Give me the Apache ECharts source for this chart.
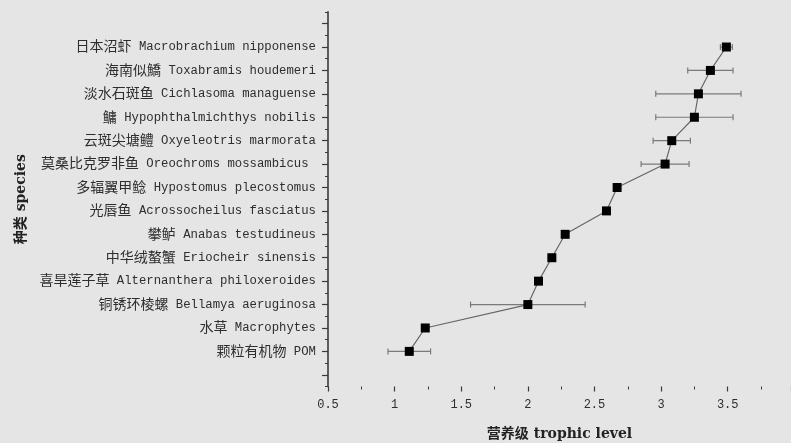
<!DOCTYPE html>
<html>
<head>
<meta charset="utf-8">
<script src="https://cdn.jsdelivr.net/npm/echarts@6/dist/echarts.min.js"></script>
<style>
html,body{margin:0;padding:0;background:#e5e5e5;}
#chart{width:791px;height:443px;}
</style>
</head>
<body>
<div id="chart"></div>
<script>
// Species listed top to bottom as in the figure
const cnNames = ['日本沼虾','海南似鱎','淡水石斑鱼','鳙','云斑尖塘鳢','莫桑比克罗非鱼','多辐翼甲鲶','光唇鱼','攀鲈','中华绒螯蟹','喜旱莲子草','铜锈环棱螺','水草','颗粒有机物'];
const latinNames = ['Macrobrachium nipponense','Toxabramis houdemeri','Cichlasoma managuense','Hypophthalmichthys nobilis','Oxyeleotris marmorata','Oreochroms mossambicus ','Hypostomus plecostomus','Acrossocheilus fasciatus','Anabas testudineus','Eriocheir sinensis','Alternanthera philoxeroides','Bellamya aeruginosa','Macrophytes','POM'];
const trophicLevel = [3.49,3.37,3.28,3.25,3.08,3.03,2.67,2.59,2.28,2.18,2.08,2.00,1.23,1.11];
const sdError = [0.045,0.17,0.32,0.29,0.14,0.18,0,0,0,0,0,0.43,0,0.16];
const xTicks = [0.5,1,1.5,2,2.5,3,3.5];

// bottom-to-top order for the category axis, with an empty band at each end
const n = cnNames.length;
const cats = [' '];
const lineData = [];
const errData = [];
for (let k = n - 1; k >= 0; k--) {
  cats.push(cnNames[k] + '|' + latinNames[k]);
  const idx = cats.length - 1;
  lineData.push([trophicLevel[k], idx]);
  errData.push([trophicLevel[k], idx, sdError[k]]);
}
cats.push('  ');

const chart = echarts.init(document.getElementById('chart'), null, {renderer: 'canvas'});
const option = {
  backgroundColor: '#e5e5e5',
  animation: false,
  grid: {left: 328, right: 0, top: 11.9, bottom: 56.5, containLabel: false, outerBoundsMode: 'none'},
  xAxis: {
    type: 'value',
    min: xTicks[0],
    max: 3.975,
    interval: 0.5,
    splitLine: {show: false},
    axisLine: {lineStyle: {color: '#3a3a3a', width: 1.8}},
    axisTick: {show: true, inside: false, length: 5, lineStyle: {color: '#3a3a3a', width: 1.2}},
    minorTick: {show: true, splitNumber: 2, length: 3, lineStyle: {color: '#3a3a3a', width: 1}},
    axisLabel: {
      showMaxLabel: false,
      margin: 12,
      color: '#2e2e2e',
      fontFamily: 'Liberation Mono',
      fontSize: 12,
      formatter: v => xTicks.includes(+v.toFixed(2)) ? String(+v.toFixed(2)) : ''
    },
    name: '营养级 trophic level',
    nameLocation: 'middle',
    nameGap: 41,
    nameTextStyle: {color: '#222', fontFamily: 'DejaVu Serif, Noto Sans CJK SC', fontWeight: 'bold', fontSize: 14}
  },
  yAxis: [{
    type: 'category',
    data: cats,
    boundaryGap: true,
    axisLine: {lineStyle: {color: '#3a3a3a', width: 1.6}},
    axisTick: {show: true, alignWithLabel: true, length: 6, lineStyle: {color: '#3a3a3a', width: 1.2}},
    splitLine: {show: false},
    axisLabel: {
      margin: 12,
      color: '#2e2e2e',
      formatter: function (v) {
        if (v.trim() === '') return '';
        const p = v.split('|');
        return '{c|' + p[0] + '}{s| }{l|' + p[1] + '}';
      },
      rich: {
        c: {fontFamily: 'Noto Sans CJK SC', fontSize: 14, color: '#2e2e2e', lineHeight: 18, verticalAlign: 'middle', padding: [0, 0, 2, 0]},
        s: {fontFamily: 'Liberation Mono', fontSize: 12.3, lineHeight: 18, verticalAlign: 'middle'},
        l: {fontFamily: 'Liberation Mono', fontSize: 12.3, color: '#2e2e2e', lineHeight: 18, verticalAlign: 'middle'}
      }
    },
    name: '种类 species',
    nameLocation: 'middle',
    nameGap: 294,
    nameTextStyle: {color: '#222', fontFamily: 'DejaVu Serif, Noto Sans CJK SC', fontWeight: 'bold', fontSize: 14}
  }, {
    type: 'category',
    data: cats,
    position: 'left',
    boundaryGap: true,
    axisLine: {show: false},
    axisTick: {show: true, alignWithLabel: false, length: 3, lineStyle: {color: '#3a3a3a', width: 1}},
    axisLabel: {show: false},
    splitLine: {show: false}
  }],
  series: [{
    type: 'custom',
    yAxisIndex: 0,
    z: 1,
    data: errData,
    renderItem: function (params, api) {
      const x = api.value(0), y = api.value(1), e = api.value(2);
      if (!(e > 0)) return null;
      const a = api.coord([x - e, y]);
      const b = api.coord([x + e, y]);
      const h = 3;
      const st = {stroke: '#7a7a7a', lineWidth: 1.2};
      return {
        type: 'group',
        children: [
          {type: 'line', shape: {x1: a[0], y1: a[1], x2: b[0], y2: b[1]}, style: st},
          {type: 'line', shape: {x1: a[0], y1: a[1] - h, x2: a[0], y2: a[1] + h}, style: st},
          {type: 'line', shape: {x1: b[0], y1: b[1] - h, x2: b[0], y2: b[1] + h}, style: st}
        ]
      };
    }
  }, {
    type: 'line',
    yAxisIndex: 0,
    z: 2,
    data: lineData,
    symbol: 'rect',
    symbolSize: 9,
    lineStyle: {color: '#666', width: 1.2},
    itemStyle: {color: '#000'}
  }]
};
chart.setOption(option);
</script>
</body>
</html>
